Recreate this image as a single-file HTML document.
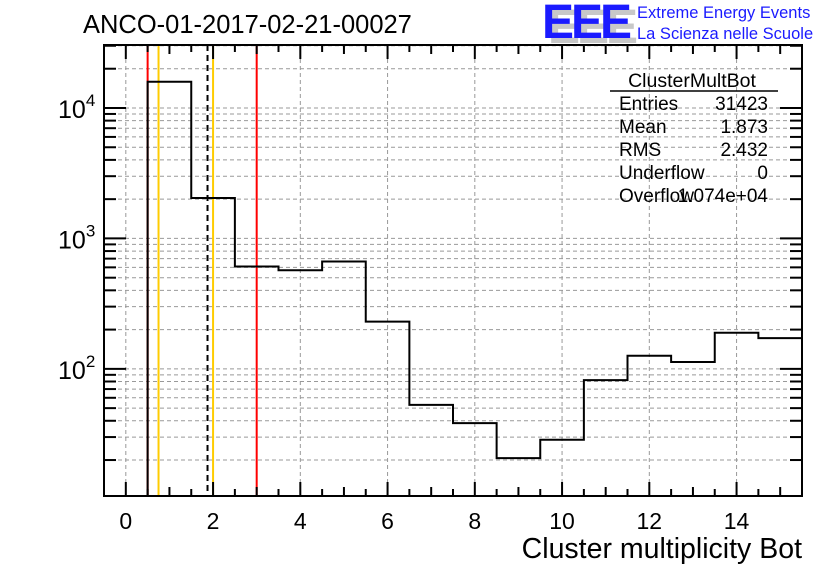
<!DOCTYPE html>
<html><head><meta charset="utf-8"><style>
html,body{margin:0;padding:0;background:#fff;}
svg{display:block;font-family:"Liberation Sans",sans-serif;}
</style></head><body>
<svg id="c" width="836" height="572" viewBox="0 0 836 572" xmlns="http://www.w3.org/2000/svg">
<rect width="836" height="572" fill="#fff"/>
<g id="grid"></g>
<g id="marks"></g>
<g id="axes"></g>
<text x="83" y="33" font-size="25.5">ANCO-01-2017-02-21-00027</text>
<g>
<text x="548" y="43" font-size="48" font-weight="bold" fill="#c8c8c8" letter-spacing="-3">EEE</text>
<text x="542" y="38" font-size="48" font-weight="bold" fill="#1a1aff" letter-spacing="-3">EEE</text>
<text x="637" y="18" font-size="16.5" fill="#1a1aff">Extreme Energy Events</text>
<text x="637" y="39" font-size="16.5" fill="#1a1aff">La Scienza nelle Scuole</text>
</g>
<g font-size="19">
<text x="692" y="87" text-anchor="middle" font-size="19.5">ClusterMultBot</text>
<line x1="610" y1="91" x2="778" y2="91" stroke="#000" stroke-width="1.5"/>
<text x="619" y="110">Entries</text><text x="768" y="110" text-anchor="end">31423</text>
<text x="619" y="133">Mean</text><text x="768" y="133" text-anchor="end">1.873</text>
<text x="619" y="156">RMS</text><text x="768" y="156" text-anchor="end">2.432</text>
<text x="619" y="179">Underflow</text><text x="768" y="179" text-anchor="end">0</text>
<text x="619" y="202">Overflow</text><text x="768" y="202" text-anchor="end">1.074e+04</text>
</g>
<text x="802" y="558" font-size="28.5" text-anchor="end">Cluster multiplicity Bot</text>
</svg>
<script>
const binCenters = [1,2,3,4,5,6,7,8,9,10,11,12,13,14,15];
const binCounts = [15900,2040,609,570,665,230,53,38.4,20.7,28.6,82,126,113,189,172];
const xTickLabels = [0,2,4,6,8,10,12,14];
const yDecades = [2,3,4];
const redLines = [0.5,3.0];
const orangeLines = [0.75,2.0];
const meanLine = [1.873];

const L=104,R=802,T=45,B=496;
const XMIN=-0.5,XMAX=15.5, YMIN=Math.log10(10.6), YMAX=Math.log10(30400);
const xs=v=>L+(v-XMIN)/(XMAX-XMIN)*(R-L);
const ys=v=>B-(Math.log10(v)-YMIN)/(YMAX-YMIN)*(B-T);
const NS="http://www.w3.org/2000/svg";
function mk(tag,attrs,parent){const e=document.createElementNS(NS,tag);for(const k in attrs)e.setAttribute(k,attrs[k]);parent.appendChild(e);return e;}
const grid=document.getElementById('grid'),marks=document.getElementById('marks'),axes=document.getElementById('axes');

for(let d=1;d<=4;d++){for(let m=1;m<=9;m++){const v=m*Math.pow(10,d);const y=ys(v);if(y<T||y>B)continue;
 const g=mk('line',{x1:L,x2:R,y1:y,y2:y,stroke:'#999','stroke-dasharray':'4,3','stroke-width':1},grid);
 
 
 const len=m===1?22:12;
 const t1=mk('line',{x1:L,x2:L+len,y1:y,y2:y,stroke:'#000','stroke-width':2},axes);
 
 
 const t2=mk('line',{x1:R,x2:R-len,y1:y,y2:y,stroke:'#000','stroke-width':2},axes);
 
 
}}
for(let v=0;v<=15.5;v+=0.5){const x=xs(v);const major=(v%2===0);
 if(major){const g=mk('line',{x1:x,x2:x,y1:T,y2:B,stroke:'#999','stroke-dasharray':'4,3','stroke-width':1},grid);
 
 }
 const len=major?14:(v%1===0?9:7);
 const t1=mk('line',{x1:x,x2:x,y1:B,y2:B-len,stroke:'#000','stroke-width':2},axes);
 
 
 const t2=mk('line',{x1:x,x2:x,y1:T,y2:T+len,stroke:'#000','stroke-width':2},axes);
 
 
}
xTickLabels.forEach(v=>{const t=mk('text',{x:xs(v),y:529,'font-size':23,'text-anchor':'middle'},axes);t.textContent=v;
 
 });
yDecades.forEach(d=>{const y=ys(Math.pow(10,d));const t=mk('text',{x:58,y:y+10,'font-size':25},axes);
 
 
 const a=mk('tspan',{},t);a.textContent='10';const b=mk('tspan',{dy:-12,'font-size':17},t);b.textContent=d;});

redLines.forEach(v=>{const l=mk('line',{x1:xs(v),x2:xs(v),y1:T,y2:B,stroke:'#f00','stroke-width':2},marks);
 
 });
orangeLines.forEach(v=>{const l=mk('line',{x1:xs(v),x2:xs(v),y1:T,y2:B,stroke:'#ffcc00','stroke-width':2},marks);
 
 });
meanLine.forEach(v=>{const l=mk('line',{x1:xs(v),x2:xs(v),y1:T,y2:B,stroke:'#000','stroke-width':2,'stroke-dasharray':'6,4'},marks);
 
 });

let d='M'+xs(binCenters[0]-0.5)+','+B;
binCenters.forEach((c,i)=>{const y=ys(binCounts[i]);d+=' L'+xs(c-0.5)+','+y+' L'+xs(c+0.5)+','+y;});
const h=mk('path',{d:d,fill:'none',stroke:'#000','stroke-width':2},marks);



const fr=mk('rect',{x:L,y:T,width:R-L,height:B-T,fill:'none',stroke:'#000','stroke-width':2},axes);


</script>
</body></html>
